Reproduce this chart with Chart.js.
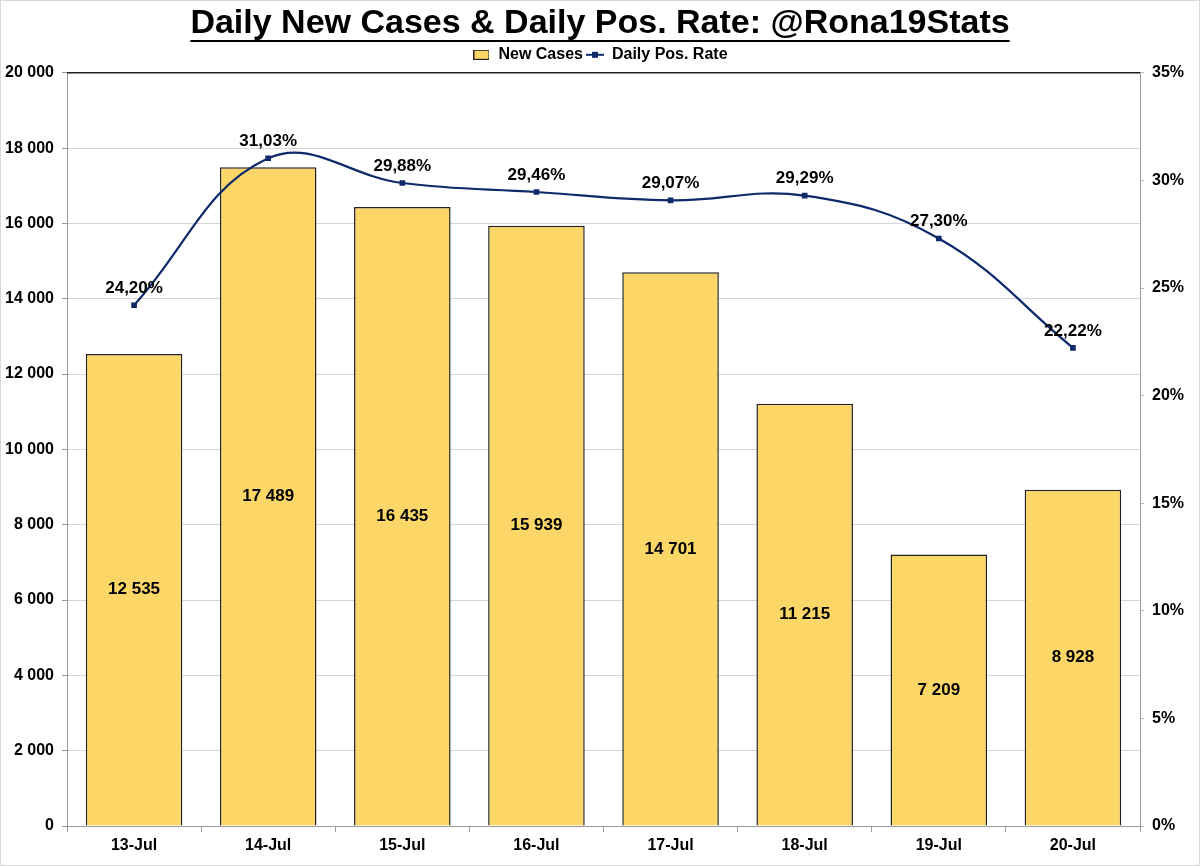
<!DOCTYPE html>
<html>
<head>
<meta charset="utf-8">
<script src="https://cdn.jsdelivr.net/npm/chart.js@4.4.1/dist/chart.umd.min.js"></script>
<style>
  html, body { margin: 0; padding: 0; background: #fff; }
  canvas { display: block; }
</style>
</head>
<body>
<canvas id="chart" width="1200" height="866"></canvas>
<script>
// chart data
const days = ["13-Jul", "14-Jul", "15-Jul", "16-Jul", "17-Jul", "18-Jul", "19-Jul", "20-Jul"];
const newCases = [12535, 17489, 16435, 15939, 14701, 11215, 7209, 8928];
const posRate = [24.20, 31.03, 29.88, 29.46, 29.07, 29.29, 27.30, 22.22];

const titleText = "Daily New Cases & Daily Pos. Rate: @Rona19Stats";
const FONT = "'Liberation Sans', Arial, Helvetica, sans-serif";
const NAVY = "#0e2a6b";
const YELLOW = "#fcd767";

// thousands with a space, decimals with a comma
const fmtInt = (n) => String(Math.round(n)).replace(/\B(?=(\d{3})+(?!\d))/g, " ");
const fmtPct = (v) => v.toFixed(2).replace(".", ",") + "%";

// legend swatches
function swatchBox() {
  const c = document.createElement("canvas");
  c.width = 16; c.height = 10;
  const g = c.getContext("2d");
  g.fillStyle = YELLOW;
  g.fillRect(0.5, 0.5, 15, 9);
  g.strokeStyle = "#222";
  g.strokeRect(0.5, 0.5, 15, 9);
  return c;
}
function swatchLine() {
  const c = document.createElement("canvas");
  c.width = 18; c.height = 10;
  const g = c.getContext("2d");
  g.strokeStyle = NAVY;
  g.lineWidth = 2;
  g.beginPath(); g.moveTo(0, 5); g.lineTo(18, 5); g.stroke();
  g.fillStyle = NAVY;
  g.fillRect(6, 2, 6, 6);
  return c;
}

const framePlugin = {
  id: "frame",
  beforeDraw(chart) {
    const ctx = chart.ctx;
    ctx.save();
    ctx.fillStyle = "#fff";
    ctx.fillRect(0, 0, chart.width, chart.height);
    ctx.restore();
  },
  afterDraw(chart) {
    const ctx = chart.ctx;
    const a = chart.chartArea;
    ctx.save();
    // dark top edge of the plot area
    ctx.strokeStyle = "#222";
    ctx.lineWidth = 1.5;
    ctx.beginPath();
    ctx.moveTo(a.left, a.top);
    ctx.lineTo(a.right, a.top);
    ctx.stroke();
    // title underline
    ctx.font = "bold 34px " + FONT;
    const w = ctx.measureText(titleText).width;
    ctx.lineWidth = 2;
    ctx.strokeStyle = "#000";
    ctx.beginPath();
    ctx.moveTo(chart.width / 2 - w / 2, 41);
    ctx.lineTo(chart.width / 2 + w / 2, 41);
    ctx.stroke();
    // outer light border
    ctx.strokeStyle = "#d8d8d8";
    ctx.lineWidth = 1;
    ctx.strokeRect(0.5, 0.5, chart.width - 1, chart.height - 1);
    ctx.restore();
  }
};

const labelPlugin = {
  id: "valueLabels",
  afterDatasetsDraw(chart) {
    const ctx = chart.ctx;
    ctx.save();
    ctx.font = "bold 17px " + FONT;
    ctx.fillStyle = "#000";
    ctx.textAlign = "center";
    ctx.textBaseline = "middle";
    chart.getDatasetMeta(0).data.forEach((bar, i) => {
      ctx.fillText(fmtInt(newCases[i]), bar.x, (bar.y + bar.base) / 2);
    });
    chart.getDatasetMeta(1).data.forEach((pt, i) => {
      ctx.fillText(fmtPct(posRate[i]), pt.x, pt.y - 17);
    });
    ctx.restore();
  }
};

Chart.defaults.font.family = FONT;
Chart.defaults.color = "#000";

new Chart(document.getElementById("chart"), {
  type: "bar",
  data: {
    labels: days,
    datasets: [
      {
        type: "bar",
        label: "New Cases",
        data: newCases,
        yAxisID: "y",
        backgroundColor: YELLOW,
        borderColor: "#222",
        borderWidth: 1.5,
        categoryPercentage: 1,
        barPercentage: 0.72,
        order: 1
      },
      {
        type: "line",
        label: "Daily Pos. Rate",
        data: posRate,
        yAxisID: "y1",
        borderColor: NAVY,
        borderWidth: 2.2,
        backgroundColor: NAVY,
        pointStyle: "rect",
        pointRadius: 4,
        pointBorderWidth: 0,
        tension: 0.4,
        order: 0
      }
    ]
  },
  options: {
    responsive: false,
    animation: false,
    devicePixelRatio: 1,
    layout: { padding: { top: 0, left: 0, right: 0, bottom: 0 } },
    plugins: {
      title: {
        display: true,
        text: titleText,
        font: { size: 34, weight: "bold" },
        color: "#000",
        padding: { top: 3, bottom: 0 }
      },
      legend: {
        display: true,
        labels: {
          font: { size: 16, weight: "bold" },
          color: "#000",
          usePointStyle: true,
          pointStyleWidth: 18,
          boxHeight: 10,
          padding: 3,
          generateLabels() {
            return [
              { text: "New Cases", pointStyle: swatchBox(), datasetIndex: 0, fontColor: "#000", lineWidth: 0 },
              { text: "Daily Pos. Rate", pointStyle: swatchLine(), datasetIndex: 1, fontColor: "#000", lineWidth: 0 }
            ];
          }
        }
      },
      tooltip: { enabled: false }
    },
    scales: {
      x: {
        offset: true,
        grid: { offset: true, drawOnChartArea: false, tickLength: 6, color: "#999" },
        border: { color: "#999" },
        ticks: { font: { size: 16, weight: "bold" }, color: "#000", padding: 4 },
        afterFit(s) { s.height = 40; }
      },
      y: {
        position: "left",
        min: 0,
        max: 20000,
        grid: { color: "#d6d6d6", tickLength: 5, tickColor: "#999" },
        border: { color: "#999" },
        ticks: {
          stepSize: 2000,
          font: { size: 16, weight: "bold" },
          color: "#000",
          padding: 8,
          callback: (v) => fmtInt(v)
        },
        afterFit(s) { s.width = 67; }
      },
      y1: {
        position: "right",
        min: 0,
        max: 35,
        grid: { drawOnChartArea: false, tickLength: 4, tickColor: "#bbb" },
        border: { color: "#999" },
        ticks: {
          stepSize: 5,
          font: { size: 16, weight: "bold" },
          color: "#000",
          padding: 8,
          callback: (v) => v + "%"
        },
        afterFit(s) { s.width = 60; }
      }
    }
  },
  plugins: [framePlugin, labelPlugin]
});
</script>
</body>
</html>
